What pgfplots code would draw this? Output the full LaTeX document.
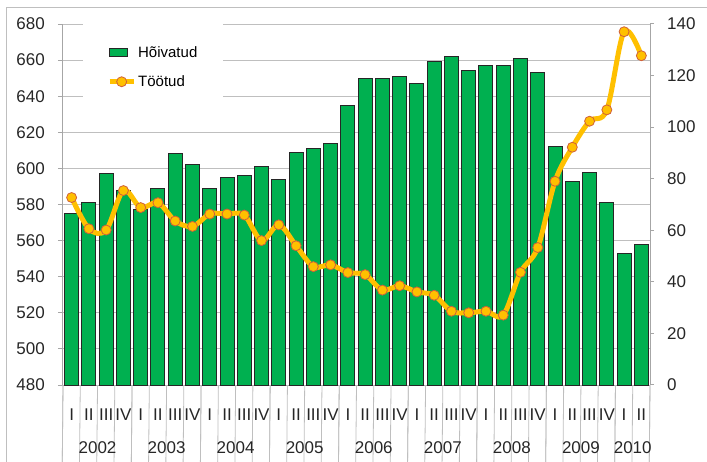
\documentclass[border=0pt]{standalone}
\usepackage{fontspec}
\setmainfont{Liberation Sans}
\usepackage{pgfplots}
\pgfplotsset{compat=1.18}
\definecolor{barg}{HTML}{00B050}
\definecolor{lineo}{HTML}{FFC000}
\definecolor{mk}{HTML}{D0603A}
\definecolor{gridc}{HTML}{BFBFBF}
\definecolor{axl}{HTML}{A6A6A6}
\begin{document}
\begin{tikzpicture}
\useasboundingbox (-63pt,-77pt) rectangle (644pt,385pt);
\draw[gridc, line width=1pt] (-56pt,-80pt) -- (-56pt,377pt) -- (650pt,377pt);
\begin{axis}[
  scale only axis, width=587pt, height=361pt,
  xmin=0.5, xmax=34.5, ymin=480, ymax=680,
  clip=false,
  ytick={480,500,...,680},
  xtick={1,...,34},
  xticklabels={I,II,III,IV,I,II,III,IV,I,II,III,IV,I,II,III,IV,I,II,III,IV,I,II,III,IV,I,II,III,IV,I,II,III,IV,I,II},
  x tick style={draw=none},
  ymajorgrids, grid style={gridc, line width=1pt},
  axis x line*=bottom, axis y line*=left,
  axis line style={axl, line width=1pt},
  y tick style={axl, line width=1pt},
  tick align=outside, major tick length=5pt,
  ticklabel style={font=\fontsize{17}{20}\selectfont, text=black!85},
  /pgf/number format/assume math mode=true,
  yticklabel style={anchor=east, inner sep=0pt, xshift=-13pt},
  xticklabel style={anchor=center, inner sep=0pt, yshift=-25pt},
  ybar, bar width=14pt,
]
\addplot[fill=barg, draw=black!85, line width=1pt] coordinates {
(1,575) (2,581) (3,597) (4,588) (5,577) (6,589) (7,608) (8,602)
(9,589) (10,595) (11,596) (12,601) (13,594) (14,609) (15,611) (16,614)
(17,635) (18,650) (19,650) (20,651) (21,647) (22,659) (23,662) (24,654)
(25,657) (26,657) (27,661) (28,653) (29,612) (30,593) (31,598) (32,581)
(33,553) (34,558)};
\pgfplotsinvokeforeach{0.5,1.5,...,34.5}{\draw[gridc, line width=0.8pt] (axis cs:#1,480) -- ++(0,-39pt);}
\pgfplotsinvokeforeach{0.5,4.5,...,32.5}{\draw[gridc, line width=0.8pt] (axis cs:#1,480) -- ++(0,-80pt);}
\draw[gridc, line width=0.8pt] (axis cs:34.5,480) -- ++(0,-80pt);
\node[font=\fontsize{17}{20}\selectfont, text=black!85] at ([yshift=-63pt]axis cs:2.5,480) {2002};
\node[font=\fontsize{17}{20}\selectfont, text=black!85] at ([yshift=-63pt]axis cs:6.5,480) {2003};
\node[font=\fontsize{17}{20}\selectfont, text=black!85] at ([yshift=-63pt]axis cs:10.5,480) {2004};
\node[font=\fontsize{17}{20}\selectfont, text=black!85] at ([yshift=-63pt]axis cs:14.5,480) {2005};
\node[font=\fontsize{17}{20}\selectfont, text=black!85] at ([yshift=-63pt]axis cs:18.5,480) {2006};
\node[font=\fontsize{17}{20}\selectfont, text=black!85] at ([yshift=-63pt]axis cs:22.5,480) {2007};
\node[font=\fontsize{17}{20}\selectfont, text=black!85] at ([yshift=-63pt]axis cs:26.5,480) {2008};
\node[font=\fontsize{17}{20}\selectfont, text=black!85] at ([yshift=-63pt]axis cs:30.5,480) {2009};
\node[font=\fontsize{17}{20}\selectfont, text=black!85] at ([yshift=-63pt]axis cs:33.5,480) {2010};
\end{axis}
\begin{axis}[
  scale only axis, width=587pt, height=361pt,
  xmin=0.5, xmax=34.5, ymin=0, ymax=140,
  axis y line*=right, axis x line=none,
  ytick={0,20,...,140},
  axis line style={axl, line width=1pt},
  y tick style={axl, line width=1pt},
  tick align=outside, major tick length=4pt,
  ticklabel style={font=\fontsize{17}{20}\selectfont, text=black!85},
  /pgf/number format/assume math mode=true,
  yticklabel style={anchor=west, inner sep=0pt, xshift=13pt},
  legend style={at={(0.034,1)}, anchor=north west, draw=none, fill=white,
    font=\fontsize{15}{18}\selectfont, inner xsep=24pt, inner ysep=20pt,
    row sep=13pt, legend cell align=left,
    /tikz/every even column/.append style={column sep=2pt}},
]
\addlegendimage{legend image code/.code={\draw[fill=barg, draw=black!85, line width=1pt] (0pt,-4pt) rectangle (18pt,4pt);}}
\addlegendentry{Hõivatud}
\addplot[smooth, tension=0.55, lineo, line width=5pt, mark=*, mark size=5pt,
  mark options={fill=lineo, draw=mk, line width=0.8pt, solid},
  legend image code/.code={\draw[lineo, line width=5pt] (0pt,0pt) -- (24pt,0pt); \draw[fill=lineo, draw=mk, line width=0.8pt] (12pt,0pt) circle (5pt);}]
coordinates {
(1,72.7) (2,60.6) (3,60.1) (4,75.4) (5,68.8) (6,70.7) (7,63.6) (8,61.5)
(9,66.3) (10,66.3) (11,65.9) (12,56.0) (13,62.1) (14,54.0) (15,45.9) (16,46.6)
(17,43.6) (18,42.8) (19,36.8) (20,38.5) (21,36.1) (22,34.8) (23,28.6) (24,28.0)
(25,28.6) (26,27.1) (27,43.7) (28,53.3) (29,79.0) (30,92.2) (31,102.3) (32,106.7)
(33,137.0) (34,127.7)};
\addlegendentry{Töötud}
\end{axis}
\end{tikzpicture}
\end{document}
